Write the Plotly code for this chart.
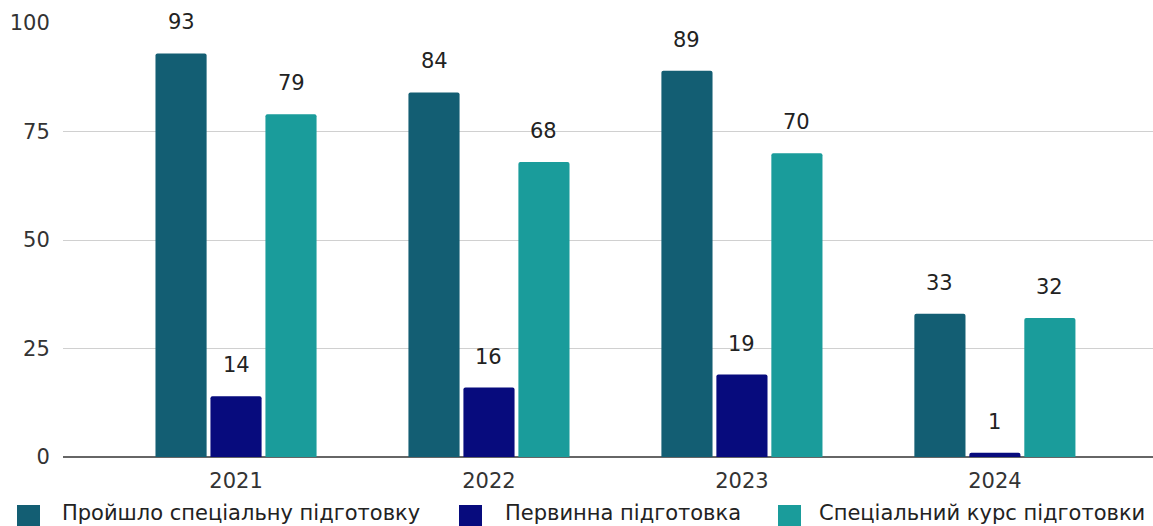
import plotly.graph_objects as go

years = ["2021", "2022", "2023", "2024"]
series_names = [
    "Пройшло спеціальну підготовку",
    "Первинна підготовка",
    "Спеціальний курс підготовки",
]
completed = [93, 84, 89, 33]
primary = [14, 16, 19, 1]
special_course = [79, 68, 70, 32]
y_ticks = [0, 25, 50, 75, 100]

colors = ["#135e73", "#070b7d", "#1a9c9b"]
values = [completed, primary, special_course]
font_family = "DejaVu Sans, Verdana, sans-serif"
text_color = "#333333"

W, H = 1153, 526
ML, MR, MT, MB = 63, 0, 23, 69
plot_w = W - ML - MR
plot_h = H - MT - MB


def px_x(px):
    return (px - ML) / plot_w


def px_y(py):
    return (H - MB - py) / plot_h


fig = go.Figure()
for name, vals, col in zip(series_names, values, colors):
    fig.add_trace(go.Bar(
        x=years, y=vals, name=name,
        marker=dict(color=col, line=dict(width=0), cornerradius=2),
        showlegend=False,
    ))

# value labels above each bar
n = len(values)
bar_slot = 0.652 / n
for i, vals in enumerate(values):
    offset = (i - (n - 1) / 2) * bar_slot
    for j, v in enumerate(vals):
        fig.add_annotation(
            x=j + offset, y=v, text=str(v), showarrow=False,
            yshift=31, yanchor="middle", xanchor="center",
            font=dict(size=21, color="#222222", family=font_family),
        )

# legend row along the bottom edge
square_left = [17, 459, 778]
text_left = [60, 503, 817]
for name, col, sx, tx in zip(series_names, colors, square_left, text_left):
    fig.add_shape(
        type="rect", xref="paper", yref="paper",
        x0=px_x(sx), x1=px_x(sx + 23), y0=px_y(528), y1=px_y(505),
        fillcolor=col, line=dict(width=0), layer="above",
    )
    fig.add_annotation(
        xref="paper", yref="paper", x=px_x(tx), y=px_y(513),
        text=name, showarrow=False, xanchor="left", yanchor="middle",
        font=dict(size=21, color="#222222", family=font_family),
    )

fig.update_layout(
    width=W, height=H,
    margin=dict(l=ML, r=MR, t=MT, b=MB, autoexpand=False),
    paper_bgcolor="white", plot_bgcolor="white",
    barmode="group", bargap=0.348, bargroupgap=0.07,
    font=dict(family=font_family, color=text_color),
    showlegend=False,
)
fig.update_xaxes(
    type="category", range=[-0.684, 3.625],
    showgrid=False, showline=False, zeroline=False,
    tickfont=dict(size=21, color=text_color),
    ticks="outside", ticklen=5, tickcolor="white",
)
fig.update_yaxes(
    range=[0, 100], tickvals=y_ticks,
    showgrid=True, gridcolor="#d0d0d0", gridwidth=1,
    zeroline=True, zerolinecolor="#666666", zerolinewidth=1.5,
    tickfont=dict(size=21, color=text_color),
    ticks="outside", ticklen=8, tickcolor="white",
)

fig.write_html("out.html")
